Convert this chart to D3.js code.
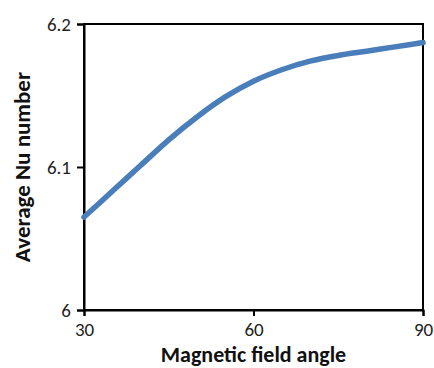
<!DOCTYPE html>
<html><head><meta charset="utf-8">
<script src="https://cdn.jsdelivr.net/npm/d3@7"></script>
<style>body{margin:0;background:#fff}svg{display:block}</style>
</head><body>
<script>
const angles = [30, 35, 40, 45, 50, 55, 60, 65, 70, 75, 80, 85, 90];
const nuValues = [6.065, 6.083, 6.101, 6.119, 6.135, 6.149, 6.160, 6.168, 6.174, 6.178, 6.181, 6.184, 6.187];
const xTicks = [30, 60, 90];
const yTicks = [6, 6.1, 6.2];
const xTitle = "Magnetic field angle";
const yTitle = "Average Nu number";

const W = 434, H = 368;
const m = {left: 84, right: 11, top: 24, bottom: 58};
const svg = d3.select("body").append("svg").attr("width", W).attr("height", H);
const x = d3.scaleLinear().domain([30, 90]).range([m.left, W - m.right]);
const y = d3.scaleLinear().domain([6, 6.2]).range([H - m.bottom, m.top]);

const font = "Calibri, Carlito, Lato, 'Open Sans', sans-serif";

// plot border
svg.append("rect").attr("x", x(30)).attr("y", y(6.2)).attr("width", x(90) - x(30)).attr("height", y(6) - y(6.2))
  .attr("fill", "none").attr("stroke", "#000").attr("stroke-width", 2);

const xa = svg.append("g").attr("transform", `translate(0,${y(6)})`)
  .call(d3.axisBottom(x).tickValues(xTicks).tickFormat(d3.format("d")).tickSize(6).tickPadding(7));
const ya = svg.append("g").attr("transform", `translate(${x(30)},0)`)
  .call(d3.axisLeft(y).tickValues(yTicks).tickFormat(d => d === 6 ? "6" : d3.format(".1f")(d)).tickSize(7).tickPadding(6));
[xa, ya].forEach(g => {
  g.select(".domain").attr("stroke", "#000").attr("stroke-width", 2);
  g.selectAll(".tick line").attr("stroke", "#000").attr("stroke-width", 2);
  g.selectAll(".tick text").attr("fill", "#222").style("font-family", font).style("font-size", "19px");
});

const line = d3.line().x(d => x(d[0])).y(d => y(d[1])).curve(d3.curveMonotoneX);
svg.append("path").datum(angles.map((a, i) => [a, nuValues[i]]))
  .attr("d", line).attr("fill", "none").attr("stroke", "#4a7ebb").attr("stroke-width", 5.5).attr("stroke-linecap", "round");

svg.append("text").attr("x", (x(30) + x(90)) / 2).attr("y", 362).attr("text-anchor", "middle")
  .style("font-family", font).style("font-size", "22px").style("font-weight", "bold").attr("fill", "#111").text(xTitle);
svg.append("text").attr("transform", `translate(30,${(y(6) + y(6.2)) / 2}) rotate(-90)`).attr("text-anchor", "middle")
  .style("font-family", font).style("font-size", "23px").style("font-weight", "bold").attr("fill", "#111").text(yTitle);
</script>
</body></html>
